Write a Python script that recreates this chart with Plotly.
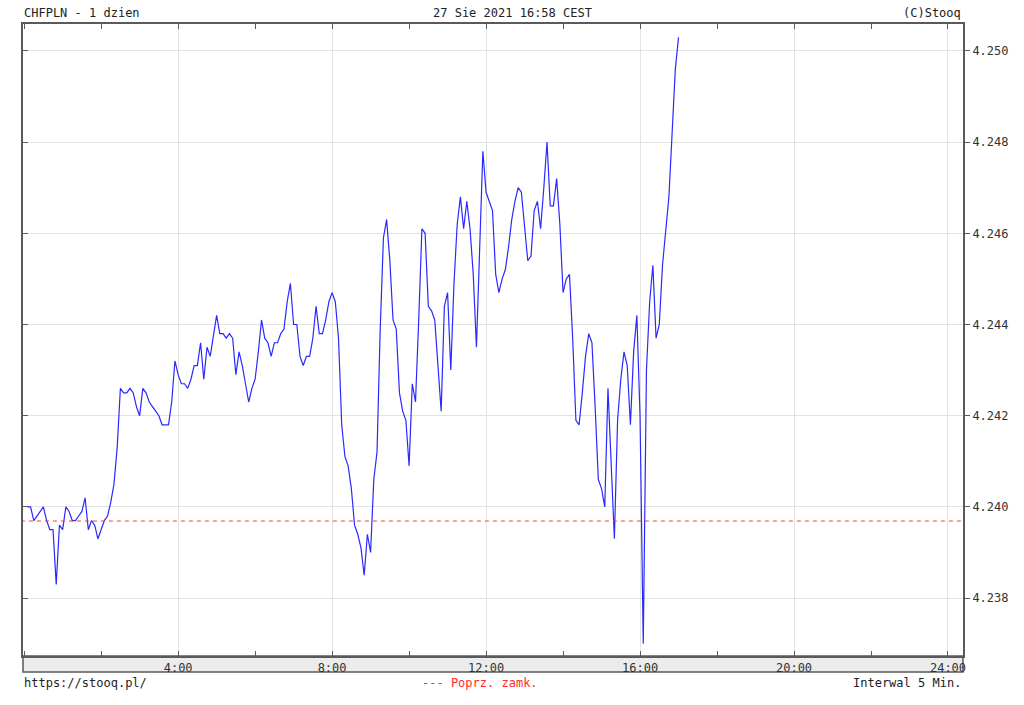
import plotly.graph_objects as go

# 5-minute CHFPLN quotes, 27 Aug 2021 (minutes after midnight = 5 * index)
values = [
    4.2400, 4.2400, 4.2397, 4.2398, 4.2399, 4.2400, 4.2397, 4.2395, 4.2395, 4.2383,
    4.2396, 4.2395, 4.2400, 4.2399, 4.2397, 4.2397, 4.2398, 4.2399, 4.2402, 4.2395,
    4.2397, 4.2396, 4.2393, 4.2395, 4.2397, 4.2398, 4.2401, 4.2405, 4.2413, 4.2426,
    4.2425, 4.2425, 4.2426, 4.2425, 4.2422, 4.2420, 4.2426, 4.2425, 4.2423, 4.2422,
    4.2421, 4.2420, 4.2418, 4.2418, 4.2418, 4.2423, 4.2432, 4.2429, 4.2427, 4.2427,
    4.2426, 4.2428, 4.2431, 4.2431, 4.2436, 4.2428, 4.2435, 4.2433, 4.2438, 4.2442,
    4.2438, 4.2438, 4.2437, 4.2438, 4.2437, 4.2429, 4.2434, 4.2431, 4.2427, 4.2423,
    4.2426, 4.2428, 4.2434, 4.2441, 4.2437, 4.2436, 4.2433, 4.2436, 4.2436, 4.2438,
    4.2439, 4.2445, 4.2449, 4.2440, 4.2440, 4.2433, 4.2431, 4.2433, 4.2433, 4.2437,
    4.2444, 4.2438, 4.2438, 4.2441, 4.2445, 4.2447, 4.2445, 4.2437, 4.2418, 4.2411,
    4.2409, 4.2404, 4.2396, 4.2394, 4.2391, 4.2385, 4.2394, 4.2390, 4.2406, 4.2412,
    4.2439, 4.2459, 4.2463, 4.2454, 4.2441, 4.2439, 4.2425, 4.2421, 4.2419, 4.2409,
    4.2427, 4.2423, 4.2441, 4.2461, 4.2460, 4.2444, 4.2443, 4.2441, 4.2431, 4.2421,
    4.2444, 4.2447, 4.2430, 4.2449, 4.2462, 4.2468, 4.2461, 4.2467, 4.2461, 4.2451,
    4.2435, 4.2458, 4.2478, 4.2469, 4.2467, 4.2465, 4.2451, 4.2447, 4.2450, 4.2452,
    4.2457, 4.2463, 4.2467, 4.2470, 4.2469, 4.2462, 4.2454, 4.2455, 4.2465, 4.2467,
    4.2461, 4.2470, 4.2480, 4.2466, 4.2466, 4.2472, 4.2462, 4.2447, 4.2450, 4.2451,
    4.2437, 4.2419, 4.2418, 4.2425, 4.2433, 4.2438, 4.2436, 4.2422, 4.2406, 4.2404,
    4.2400, 4.2426, 4.2408, 4.2393, 4.2419, 4.2428, 4.2434, 4.2431, 4.2418, 4.2434,
    4.2442, 4.2420, 4.2370, 4.2430, 4.2445, 4.2453, 4.2437, 4.2440, 4.2453, 4.2460,
    4.2468, 4.2482, 4.2496, 4.2503,
]
minutes = [5 * (i + 1) for i in range(len(values))]
hours = [m / 60 for m in minutes]

prev_close = 4.23969

x_tick_vals = [4, 8, 12, 16, 20, 24]
x_tick_text = ["4:00", "8:00", "12:00", "16:00", "20:00", "24:00"]
y_tick_vals = [4.238, 4.240, 4.242, 4.244, 4.246, 4.248, 4.250]
y_tick_text = ["4.238", "4.240", "4.242", "4.244", "4.246", "4.248", "4.250"]

FONT = "DejaVu Sans Mono"
FRAME = "#5a5a5a"
GRID = "#e2e2e2"

fig = go.Figure()
fig.add_trace(go.Scatter(
    x=hours, y=values, mode="lines",
    line=dict(color="#2a2aff", width=1.2), hoverinfo="skip", showlegend=False,
))
fig.add_trace(go.Scatter(
    x=[-0.5, 25], y=[prev_close, prev_close], mode="lines",
    line=dict(color="#ff3b3b", width=1, dash="4px,4px"), hoverinfo="skip", showlegend=False,
))
# dummy trace for mirrored left y axis
fig.add_trace(go.Scatter(x=[None], y=[None], yaxis="y2", showlegend=False))

fig.update_layout(
    width=1024, height=705,
    margin=dict(l=23, r=61, t=24, b=49),
    paper_bgcolor="white", plot_bgcolor="white",
    font=dict(family=FONT, size=12, color="#222"),
    xaxis=dict(
        range=[-0.03, 24.39], tickvals=x_tick_vals, ticktext=x_tick_text,
        showgrid=True, gridcolor=GRID, gridwidth=1,
        ticks="inside", ticklen=5, tickcolor=FRAME, tickwidth=1,
        minor=dict(dtick=2, tick0=0, ticks="inside", ticklen=5, tickcolor=FRAME, showgrid=False),
        showline=True, linecolor=FRAME, linewidth=2, mirror="allticks",
        zeroline=False, tickfont=dict(family=FONT, size=12, color="#333"),
        ticklabelstandoff=0,
    ),
    yaxis=dict(
        range=[4.23673, 4.25059], side="right", tickvals=y_tick_vals, ticktext=y_tick_text,
        showgrid=True, gridcolor=GRID, gridwidth=1,
        ticks="outside", ticklen=5, tickcolor=FRAME,
        showline=True, linecolor=FRAME, linewidth=2,
        zeroline=False, tickfont=dict(family=FONT, size=12, color="#333"),
    ),
    yaxis2=dict(
        overlaying="y", matches="y", side="left", tickvals=y_tick_vals,
        showticklabels=False, ticks="inside", ticklen=5, tickcolor=FRAME,
        showgrid=False, zeroline=False, showline=True, linecolor=FRAME, linewidth=2,
    ),
)

# gray band under the plot for the time labels
fig.add_shape(type="rect", xref="paper", yref="paper", x0=0, x1=1, y0=-16 / 632, y1=0,
              fillcolor="#ececec", line=dict(color=FRAME, width=1.5), layer="below")

def ann(text, x, y, xanchor, color="#222"):
    fig.add_annotation(text=text, xref="paper", yref="paper", x=x, y=y,
                       xanchor=xanchor, yanchor="middle", showarrow=False,
                       font=dict(family=FONT, size=12, color=color))

ann("CHFPLN - 1 dzien", -1 / 940, 1 + 11 / 632, "left")
ann("27 Sie 2021 16:58 CEST", 489 / 940, 1 + 11 / 632, "center")
ann("(C)Stooq", 1, 1 + 11 / 632, "right")
ann("https://stooq.pl/", -1 / 940, -27 / 632, "left")
ann("--- Poprz. zamk.", 457 / 940, -27 / 632, "center", color="#ff2a2a")
ann("Interwal 5 Min.", 1, -27 / 632, "right")

fig.write_html(
    "out.html",
    config={"displayModeBar": False, "staticPlot": True},
    post_script="document.body.style.margin='0';document.body.style.overflow='hidden';",
)
